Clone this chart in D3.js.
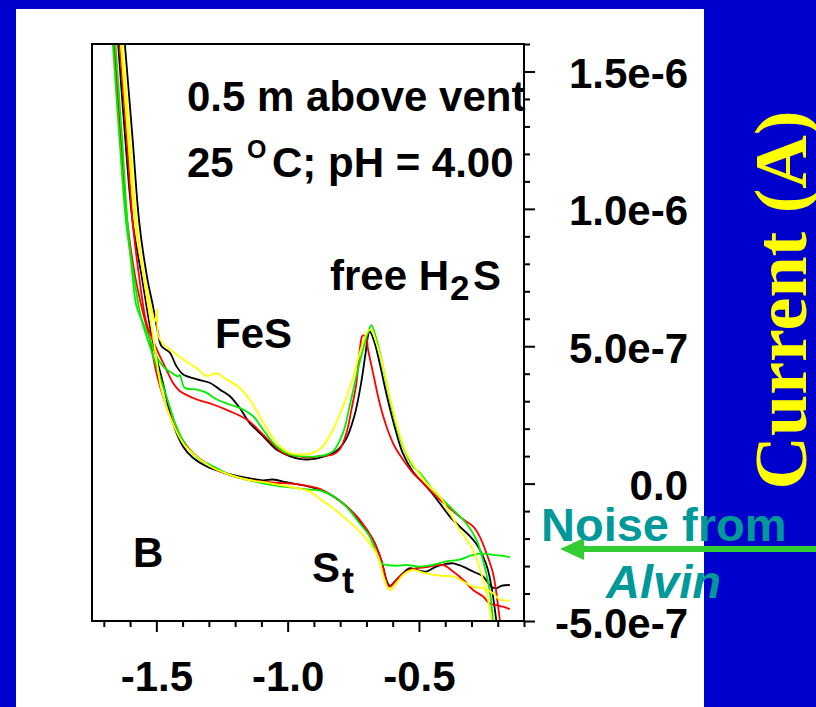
<!DOCTYPE html>
<html>
<head>
<meta charset="utf-8">
<script src="https://cdn.jsdelivr.net/npm/d3@7"></script>
<style>
  html, body { margin: 0; padding: 0; background: #0000CC; }
  svg { display: block; }
</style>
</head>
<body>
<svg id="chart" width="816" height="707"></svg>
<script>
// ---------- DATA (potential in V, current in units of 1e-7 A) ----------
const xMajorTicks = [-1.5, -1.0, -0.5];
const xTickLabels = ["-1.5", "-1.0", "-0.5"];
const xMinorTicks = [-1.7, -1.6, -1.4, -1.3, -1.2, -1.1, -0.9, -0.8, -0.7, -0.6, -0.4, -0.3, -0.2, -0.1];
const yMajorTicks = [-5e-7, 0, 5e-7, 1e-6, 1.5e-6];
const yTickLabels = ["-5.0e-7", "0.0", "5.0e-7", "1.0e-6", "1.5e-6"];
const yMinorTicks = [-4e-7, -3e-7, -2e-7, -1e-7, 1e-7, 2e-7, 3e-7, 4e-7, 6e-7, 7e-7, 8e-7, 9e-7, 1.1e-6, 1.2e-6, 1.3e-6, 1.4e-6, 1.6e-6];

const blackUpper = [[-1.625,16.6],[-1.59,12.5],[-1.565,9.5],[-1.535,7.5],[-1.513,6.47],[-1.494,5.50],[-1.481,5.01],[-1.449,4.77],[-1.424,4.28],[-1.399,3.98],[-1.348,3.80],[-1.297,3.67],[-1.259,3.43],[-1.221,3.19],[-1.183,2.76],[-1.145,2.21],[-1.094,1.73],[-1.043,1.24],[-0.992,1.00],[-0.955,0.90],[-0.916,0.88],[-0.879,0.94],[-0.816,1.18],[-0.778,1.61],[-0.746,2.46],[-0.720,3.67],[-0.703,4.77],[-0.694,5.38],[-0.688,5.56],[-0.669,5.13],[-0.650,4.40],[-0.625,3.31],[-0.593,2.09],[-0.562,1.12],[-0.524,0.45],[-0.497,0.15],[-0.459,-0.25],[-0.421,-0.71],[-0.383,-1.19],[-0.345,-1.56],[-0.307,-1.90],[-0.281,-2.20],[-0.256,-2.65],[-0.237,-3.15],[-0.224,-3.75],[-0.212,-4.50],[-0.203,-5.20]];
const blackLower = [[-1.65,16.6],[-1.618,12.5],[-1.59,9.5],[-1.555,7.5],[-1.52,5.5],[-1.497,4.5],[-1.475,3.67],[-1.437,2.21],[-1.399,1.36],[-1.361,0.94],[-1.310,0.63],[-1.246,0.41],[-1.170,0.24],[-1.094,0.12],[-1.056,0.15],[-1.005,0.05],[-0.954,-0.04],[-0.903,-0.15],[-0.878,-0.22],[-0.827,-0.46],[-0.776,-0.83],[-0.726,-1.37],[-0.675,-2.04],[-0.644,-2.77],[-0.619,-3.63],[-0.610,-3.72],[-0.586,-3.50],[-0.561,-3.26],[-0.535,-3.08],[-0.510,-3.14],[-0.472,-3.20],[-0.434,-3.02],[-0.396,-2.92],[-0.370,-2.90],[-0.332,-3.02],[-0.294,-3.20],[-0.256,-3.38],[-0.224,-3.75],[-0.205,-3.81],[-0.186,-3.72],[-0.154,-3.69]];

const redUpper = [[-1.645,16.6],[-1.612,12.5],[-1.59,9.5],[-1.565,7.5],[-1.538,5.86],[-1.512,5.2],[-1.487,4.65],[-1.462,4.16],[-1.437,3.67],[-1.411,3.37],[-1.348,3.07],[-1.284,2.88],[-1.221,2.64],[-1.157,2.34],[-1.119,2.03],[-1.069,1.55],[-1.018,1.12],[-0.967,1.00],[-0.916,0.95],[-0.879,1.00],[-0.827,1.06],[-0.802,1.24],[-0.776,1.85],[-0.757,2.70],[-0.738,3.67],[-0.725,4.89],[-0.715,5.38],[-0.702,5.35],[-0.694,4.89],[-0.675,4.04],[-0.650,2.94],[-0.624,2.09],[-0.593,1.36],[-0.561,0.88],[-0.523,0.39],[-0.497,0.15],[-0.472,-0.10],[-0.421,-0.58],[-0.370,-1.00],[-0.332,-1.30],[-0.294,-1.56],[-0.269,-1.92],[-0.243,-2.53],[-0.218,-3.26],[-0.205,-3.99],[-0.192,-4.96],[-0.188,-5.20]];
const redLower = [[-1.665,16.6],[-1.635,12.5],[-1.61,9.5],[-1.58,7.5],[-1.551,6.23],[-1.525,5.26],[-1.500,4.04],[-1.462,2.82],[-1.424,1.97],[-1.373,1.24],[-1.322,0.82],[-1.259,0.45],[-1.157,0.15],[-1.069,0.05],[-0.967,-0.02],[-0.916,-0.10],[-0.876,-0.20],[-0.827,-0.45],[-0.776,-0.82],[-0.726,-1.31],[-0.675,-2.04],[-0.644,-2.77],[-0.619,-3.69],[-0.610,-3.75],[-0.586,-3.50],[-0.548,-3.20],[-0.510,-3.08],[-0.472,-3.04],[-0.409,-2.96],[-0.370,-3.20],[-0.332,-3.50],[-0.294,-3.87],[-0.256,-4.11],[-0.231,-4.36],[-0.205,-4.42],[-0.180,-4.48],[-0.154,-4.57]];

const greenUpper = [[-1.66,16.6],[-1.63,12.5],[-1.61,9.5],[-1.59,7.5],[-1.576,6.47],[-1.551,5.86],[-1.525,5.26],[-1.500,4.65],[-1.475,4.28],[-1.443,4.04],[-1.418,3.90],[-1.411,3.96],[-1.392,3.49],[-1.348,3.43],[-1.310,3.31],[-1.271,3.07],[-1.221,2.88],[-1.170,2.70],[-1.132,2.46],[-1.094,1.97],[-1.043,1.36],[-0.992,1.06],[-0.955,1.00],[-0.879,1.00],[-0.827,1.18],[-0.789,1.85],[-0.764,2.82],[-0.738,3.92],[-0.713,4.89],[-0.694,5.50],[-0.681,5.77],[-0.662,5.26],[-0.643,4.53],[-0.624,3.67],[-0.599,2.58],[-0.561,1.36],[-0.523,0.63],[-0.497,0.39],[-0.447,-0.22],[-0.396,-0.71],[-0.345,-1.19],[-0.320,-1.44],[-0.281,-2.04],[-0.250,-3.02],[-0.231,-3.87],[-0.218,-4.96],[-0.215,-5.20]];
const greenLower = [[-1.67,16.6],[-1.64,12.5],[-1.615,9.5],[-1.585,7.5],[-1.557,5.99],[-1.525,5.01],[-1.487,3.92],[-1.462,3.19],[-1.424,2.09],[-1.386,1.36],[-1.335,0.88],[-1.284,0.63],[-1.221,0.33],[-1.157,0.15],[-1.069,-0.04],[-0.916,-0.22],[-0.878,-0.25],[-0.827,-0.45],[-0.776,-0.85],[-0.726,-1.44],[-0.688,-1.92],[-0.662,-2.53],[-0.644,-2.90],[-0.624,-2.96],[-0.586,-2.99],[-0.548,-2.96],[-0.497,-3.02],[-0.447,-2.96],[-0.396,-2.83],[-0.345,-2.77],[-0.294,-2.59],[-0.256,-2.55],[-0.218,-2.59],[-0.180,-2.63],[-0.154,-2.68]];

const yellowUpper = [[-1.635,16.6],[-1.60,12.5],[-1.575,9.5],[-1.545,7.5],[-1.52,6.4],[-1.505,5.9],[-1.498,6.35],[-1.493,5.4],[-1.475,5.1],[-1.449,4.89],[-1.399,4.53],[-1.348,4.22],[-1.310,3.92],[-1.271,4.01],[-1.234,3.80],[-1.183,3.49],[-1.145,3.07],[-1.107,2.46],[-1.069,1.85],[-1.031,1.36],[-0.992,1.12],[-0.955,1.06],[-0.904,1.12],[-0.866,1.36],[-0.827,1.97],[-0.789,2.82],[-0.757,3.67],[-0.732,4.53],[-0.713,5.13],[-0.694,5.56],[-0.681,5.60],[-0.662,5.13],[-0.637,4.28],[-0.612,3.19],[-0.580,1.97],[-0.548,1.12],[-0.510,0.51],[-0.472,0.02],[-0.421,-0.46],[-0.383,-1.07],[-0.345,-1.68],[-0.294,-2.41],[-0.256,-3.50],[-0.237,-4.23],[-0.224,-4.96],[-0.221,-5.20]];
const yellowLower = [[-1.64,16.6],[-1.607,12.5],[-1.58,9.5],[-1.548,7.5],[-1.515,5.5],[-1.497,4.4],[-1.481,3.43],[-1.449,2.46],[-1.399,1.48],[-1.348,1.00],[-1.284,0.57],[-1.221,0.33],[-1.157,0.15],[-1.069,0.02],[-0.967,-0.16],[-0.916,-0.28],[-0.878,-0.55],[-0.827,-0.90],[-0.776,-1.30],[-0.726,-1.74],[-0.688,-2.17],[-0.656,-2.65],[-0.631,-3.50],[-0.612,-3.87],[-0.586,-3.63],[-0.561,-3.32],[-0.523,-3.14],[-0.485,-3.24],[-0.447,-3.32],[-0.409,-3.36],[-0.370,-3.38],[-0.332,-3.56],[-0.294,-3.75],[-0.256,-3.81],[-0.218,-3.99],[-0.193,-4.21],[-0.154,-4.26]];

const seriesColors = ["#000000", "#FF0000", "#00EE00", "#FFFF00"];
const seriesBranches = [[blackUpper, blackLower], [redUpper, redLower], [greenUpper, greenLower], [yellowUpper, yellowLower]];
const currentUnit = 1e-7;

// ---------- DRAW ----------
const svg = d3.select("#chart");
const W = 816, H = 707;
const plot = { left: 92, right: 524, top: 44, bottom: 621 };

svg.append("rect").attr("width", W).attr("height", H).attr("fill", "#0000CC");
svg.append("rect").attr("x", 16).attr("y", 9).attr("width", 688).attr("height", H - 9).attr("fill", "#FFFFFF");

const x = d3.scaleLinear().domain([-1.745, -0.1]).range([plot.left, plot.right]);
const y = d3.scaleLinear().domain([-5e-7, 1.6e-6]).range([plot.bottom, plot.top]);

svg.append("defs").append("clipPath").attr("id", "clip")
  .append("rect").attr("x", plot.left).attr("y", plot.top)
  .attr("width", plot.right - plot.left).attr("height", plot.bottom - plot.top);

const line = d3.line()
  .x(d => x(d[0]))
  .y(d => y(d[1] * currentUnit))
  .curve(d3.curveCatmullRom.alpha(0.5));

const curves = svg.append("g").attr("clip-path", "url(#clip)");
seriesBranches.forEach((branches, i) => {
  branches.forEach(b => {
    curves.append("path").datum(b)
      .attr("d", line)
      .attr("fill", "none")
      .attr("stroke", seriesColors[i])
      .attr("stroke-width", 1.8)
      .attr("stroke-linejoin", "round");
  });
});

// frame
svg.append("rect")
  .attr("x", plot.left).attr("y", plot.top)
  .attr("width", plot.right - plot.left).attr("height", plot.bottom - plot.top)
  .attr("fill", "none").attr("stroke", "#000").attr("stroke-width", 2);

const font = "'Liberation Sans', Arial, Helvetica, sans-serif";
const FS = 42;

// x axis
const gxMinor = svg.append("g").attr("transform", `translate(0,${plot.bottom})`)
  .call(d3.axisBottom(x).tickValues(xMinorTicks).tickSize(6).tickSizeOuter(0).tickFormat(""));
const gx = svg.append("g").attr("transform", `translate(0,${plot.bottom})`)
  .call(d3.axisBottom(x).tickValues(xMajorTicks).tickSize(11).tickSizeOuter(0)
    .tickFormat((d, i) => xTickLabels[i]));
[gxMinor, gx].forEach(g => {
  g.select(".domain").remove();
  g.selectAll(".tick line").attr("stroke", "#000").attr("stroke-width", 2);
});
gx.selectAll(".tick text")
  .attr("y", 70).attr("dy", null)
  .attr("font-family", font).attr("font-weight", "bold").attr("font-size", FS)
  .attr("fill", "#000");

// y axis (right)
const gyMinor = svg.append("g").attr("transform", `translate(${plot.right},0)`)
  .call(d3.axisRight(y).tickValues(yMinorTicks).tickSize(6).tickSizeOuter(0).tickFormat(""));
const gy = svg.append("g").attr("transform", `translate(${plot.right},0)`)
  .call(d3.axisRight(y).tickValues(yMajorTicks).tickSize(11).tickSizeOuter(0)
    .tickFormat((d, i) => yTickLabels[i]));
[gyMinor, gy].forEach(g => {
  g.select(".domain").remove();
  g.selectAll(".tick line").attr("stroke", "#000").attr("stroke-width", 2);
});
gy.selectAll(".tick text")
  .attr("x", 164).attr("dy", 16).attr("text-anchor", "end")
  .attr("font-family", font).attr("font-weight", "bold").attr("font-size", FS)
  .attr("fill", "#000");

// annotations
function label(txt, px, py, size, opts = {}) {
  return svg.append("text").attr("x", px).attr("y", py)
    .attr("font-family", opts.family || font).attr("font-weight", "bold")
    .attr("font-style", opts.italic ? "italic" : "normal")
    .attr("font-size", size).attr("fill", opts.fill || "#000")
    .text(txt);
}
label("0.5 m above vent", 187, 111, FS);
label("25", 187, 177, FS);
label("O", 247, 158, 25);
label("C; pH = 4.00", 272, 177, FS);
label("free H", 330, 290, FS);
label("2", 450, 300, 35);
label("S", 473, 290, FS);
label("FeS", 215, 348, FS);
label("B", 133, 567, FS);
label("S", 312, 582, FS);
label("t", 342, 593, 36);

// noise annotation
const teal = "#009999";
svg.append("line").attr("x1", 816).attr("x2", 580).attr("y1", 549).attr("y2", 549)
  .attr("stroke", "#33CC33").attr("stroke-width", 6);
svg.append("polygon").attr("points", "560,549 584,538 584,560").attr("fill", "#33CC33");
label("Noise from", 541, 541, 47, { fill: teal });
label("Alvin", 606, 598, 47, { fill: teal, italic: true });

// y-axis title
svg.append("text")
  .attr("transform", "translate(806,300) rotate(-90)")
  .attr("text-anchor", "middle")
  .attr("font-family", "'Liberation Serif', 'Times New Roman', serif")
  .attr("font-weight", "bold").attr("font-size", 74)
  .attr("fill", "#FFFF00")
  .text("Current (A)");
</script>
</body>
</html>
